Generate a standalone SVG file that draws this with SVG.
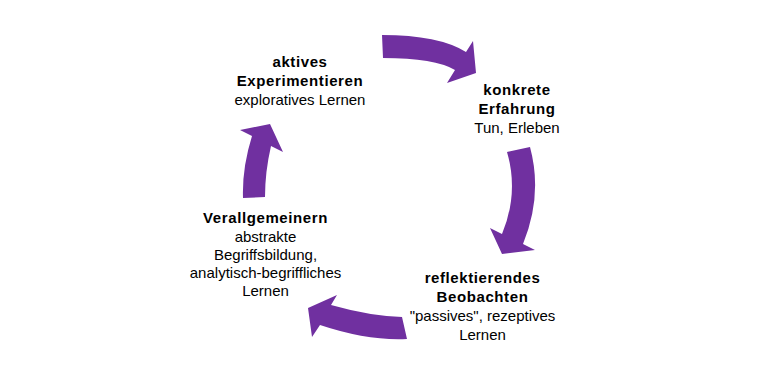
<svg xmlns="http://www.w3.org/2000/svg" width="778" height="374" viewBox="0 0 778 374">
<style>
.arrow{fill:#7030A0;stroke:none}
text{font-family:"Liberation Sans",Arial,sans-serif;font-size:15px;fill:#000;text-anchor:middle}
.b{font-weight:bold;letter-spacing:0.6px}
</style>
<rect width="778" height="374" fill="#fff"/>
<g id="connectors">
<path class="arrow" d="M382,35 Q439,35 466,52 L473,41 L476,73 L447,83 L455,70 Q435,58 383,58 Z"/>
<path class="arrow" d="M507,152 L530,147 Q543,195 523,244 L535,250 L502,254 L490,228 L502,234 Q519,193 507,152 Z"/>
<path class="arrow" d="M407,339 Q368,341 320,325 L312,337 L308,308 L337,295 L331,305 Q370,316 402,317 Z"/>
<path class="arrow" d="M243,198 Q242,168 252,136 L240,130 L270,124 L283,152 L271,146 Q265,172 265,197 Z"/>
</g>
<g id="node-experimentieren">
<text x="300" y="67" class="b">aktives</text>
<text x="300" y="86" class="b">Experimentieren</text>
<text x="300" y="105">exploratives Lernen</text>
</g>
<g id="node-erfahrung">
<text x="517" y="95" class="b">konkrete</text>
<text x="517" y="114" class="b">Erfahrung</text>
<text x="517" y="133">Tun, Erleben</text>
</g>
<g id="node-beobachten">
<text x="482.5" y="283" class="b">reflektierendes</text>
<text x="482.5" y="302" class="b">Beobachten</text>
<text x="482.5" y="321">"passives", rezeptives</text>
<text x="482.5" y="340">Lernen</text>
</g>
<g id="node-verallgemeinern">
<text x="265.5" y="223" class="b">Verallgemeinern</text>
<text x="265.5" y="242">abstrakte</text>
<text x="265.5" y="260">Begriffsbildung,</text>
<text x="265.5" y="278">analytisch-begriffliches</text>
<text x="265.5" y="296">Lernen</text>
</g>
</svg>
